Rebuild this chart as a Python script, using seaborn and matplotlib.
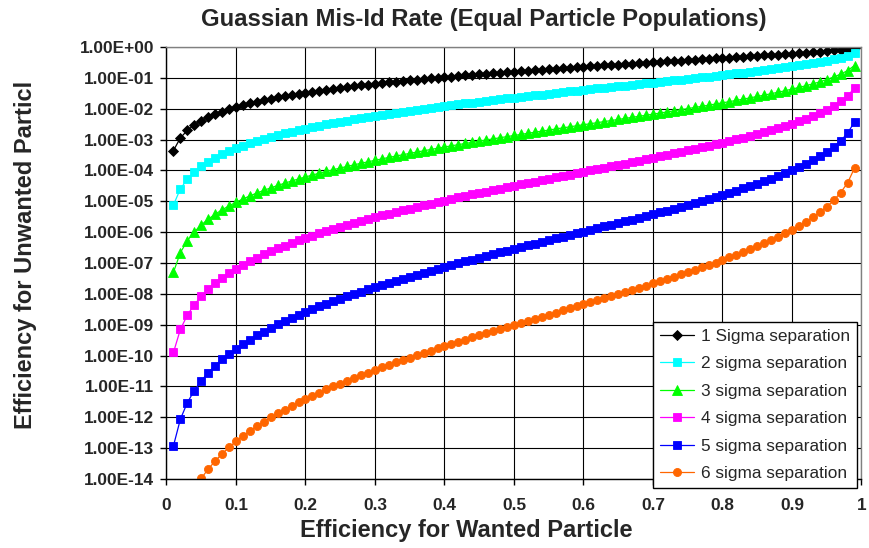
import numpy as np
import pandas as pd
import matplotlib
matplotlib.use("Agg")
import matplotlib.pyplot as plt
import seaborn as sns

# Efficiency for the wanted particle (x axis), 0.01 .. 0.99
wanted_eff = np.round(np.arange(1, 100) * 0.01, 2)

# log10 of the efficiency for the unwanted particle, one list per separation
log_sep1 = [
    -3.355, -2.945, -2.701, -2.524, -2.387, -2.273, -2.176, -2.091, -2.014, -1.946,
    -1.884, -1.827, -1.774, -1.725, -1.679, -1.636, -1.595, -1.555, -1.518, -1.482,
    -1.448, -1.416, -1.385, -1.354, -1.325, -1.297, -1.271, -1.244, -1.219, -1.195,
    -1.171, -1.147, -1.124, -1.101, -1.079, -1.058, -1.036, -1.016, -0.996, -0.976,
    -0.957, -0.938, -0.920, -0.902, -0.884, -0.866, -0.849, -0.833, -0.816, -0.800,
    -0.783, -0.766, -0.750, -0.733, -0.717, -0.701, -0.686, -0.670, -0.655, -0.641,
    -0.625, -0.611, -0.596, -0.582, -0.568, -0.554, -0.541, -0.528, -0.514, -0.499,
    -0.484, -0.469, -0.454, -0.440, -0.426, -0.411, -0.397, -0.383, -0.369, -0.355,
    -0.341, -0.328, -0.315, -0.303, -0.289, -0.274, -0.259, -0.245, -0.229, -0.214,
    -0.198, -0.182, -0.166, -0.148, -0.130, -0.112, -0.091, -0.069, -0.042,
]
log_sep2 = [
    -5.119, -4.597, -4.282, -4.053, -3.872, -3.722, -3.593, -3.479, -3.377, -3.285,
    -3.201, -3.123, -3.051, -2.984, -2.920, -2.861, -2.803, -2.749, -2.697, -2.647,
    -2.599, -2.553, -2.509, -2.466, -2.425, -2.385, -2.346, -2.308, -2.272, -2.236,
    -2.201, -2.166, -2.133, -2.099, -2.067, -2.035, -2.004, -1.973, -1.943, -1.914,
    -1.885, -1.857, -1.829, -1.801, -1.773, -1.746, -1.720, -1.694, -1.668, -1.642,
    -1.616, -1.590, -1.564, -1.540, -1.514, -1.489, -1.464, -1.440, -1.416, -1.392,
    -1.367, -1.343, -1.319, -1.296, -1.272, -1.248, -1.225, -1.201, -1.178, -1.154,
    -1.130, -1.105, -1.081, -1.056, -1.031, -1.006, -0.982, -0.957, -0.932, -0.907,
    -0.881, -0.856, -0.830, -0.804, -0.776, -0.746, -0.717, -0.687, -0.656, -0.624,
    -0.592, -0.558, -0.523, -0.484, -0.442, -0.396, -0.344, -0.283, -0.202,
]
log_sep3 = [
    -7.299, -6.663, -6.276, -5.993, -5.768, -5.580, -5.418, -5.276, -5.148, -5.031,
    -4.924, -4.825, -4.733, -4.646, -4.565, -4.488, -4.414, -4.344, -4.276, -4.212,
    -4.150, -4.090, -4.032, -3.977, -3.922, -3.869, -3.818, -3.768, -3.720, -3.672,
    -3.626, -3.579, -3.535, -3.491, -3.448, -3.405, -3.364, -3.322, -3.282, -3.242,
    -3.202, -3.164, -3.126, -3.088, -3.051, -3.013, -2.977, -2.940, -2.904, -2.868,
    -2.833, -2.797, -2.761, -2.727, -2.692, -2.657, -2.622, -2.588, -2.553, -2.519,
    -2.485, -2.451, -2.417, -2.382, -2.348, -2.314, -2.279, -2.245, -2.211, -2.176,
    -2.140, -2.105, -2.070, -2.033, -1.996, -1.960, -1.923, -1.886, -1.847, -1.809,
    -1.770, -1.730, -1.689, -1.647, -1.604, -1.559, -1.513, -1.466, -1.417, -1.365,
    -1.312, -1.255, -1.195, -1.129, -1.055, -0.973, -0.879, -0.764, -0.600,
]
log_sep4 = [
    -9.900, -9.150, -8.689, -8.351, -8.082, -7.856, -7.661, -7.489, -7.334, -7.192,
    -7.063, -6.942, -6.830, -6.724, -6.624, -6.530, -6.439, -6.353, -6.270, -6.190,
    -6.113, -6.039, -5.967, -5.898, -5.831, -5.765, -5.701, -5.639, -5.577, -5.518,
    -5.459, -5.402, -5.346, -5.291, -5.236, -5.183, -5.130, -5.078, -5.026, -4.976,
    -4.926, -4.877, -4.828, -4.780, -4.732, -4.684, -4.637, -4.591, -4.544, -4.498,
    -4.452, -4.407, -4.361, -4.316, -4.270, -4.225, -4.180, -4.135, -4.090, -4.046,
    -4.001, -3.956, -3.912, -3.867, -3.821, -3.776, -3.730, -3.685, -3.639, -3.592,
    -3.546, -3.499, -3.450, -3.403, -3.353, -3.304, -3.254, -3.203, -3.152, -3.099,
    -3.045, -2.990, -2.934, -2.876, -2.817, -2.755, -2.691, -2.624, -2.555, -2.482,
    -2.405, -2.323, -2.236, -2.139, -2.031, -1.909, -1.766, -1.587, -1.325,
]
log_sep5 = [
    -12.926, -12.059, -11.526, -11.133, -10.818, -10.555, -10.326, -10.123, -9.941, -9.775,
    -9.622, -9.480, -9.346, -9.221, -9.103, -8.991, -8.884, -8.780, -8.682, -8.587,
    -8.495, -8.407, -8.320, -8.238, -8.157, -8.078, -8.001, -7.926, -7.853, -7.781,
    -7.711, -7.642, -7.573, -7.506, -7.441, -7.376, -7.312, -7.249, -7.187, -7.126,
    -7.065, -7.005, -6.945, -6.887, -6.828, -6.770, -6.713, -6.655, -6.598, -6.542,
    -6.485, -6.429, -6.373, -6.318, -6.261, -6.206, -6.150, -6.095, -6.040, -5.985,
    -5.929, -5.872, -5.817, -5.761, -5.704, -5.648, -5.592, -5.534, -5.477, -5.418,
    -5.359, -5.300, -5.239, -5.179, -5.117, -5.054, -4.991, -4.926, -4.861, -4.794,
    -4.725, -4.655, -4.582, -4.508, -4.431, -4.352, -4.269, -4.183, -4.093, -3.997,
    -3.897, -3.788, -3.672, -3.543, -3.399, -3.236, -3.041, -2.792, -2.423,
]
log_sep6 = [
    -16.379, -15.396, -14.788, -14.340, -13.980, -13.678, -13.416, -13.183, -12.973, -12.782,
    -12.605, -12.441, -12.287, -12.143, -12.005, -11.876, -11.751, -11.632, -11.517, -11.406,
    -11.300, -11.197, -11.097, -11.000, -10.906, -10.813, -10.724, -10.636, -10.550, -10.466,
    -10.384, -10.302, -10.223, -10.145, -10.068, -9.991, -9.916, -9.842, -9.769, -9.696,
    -9.624, -9.553, -9.484, -9.414, -9.344, -9.276, -9.208, -9.140, -9.073, -9.005,
    -8.938, -8.871, -8.805, -8.739, -8.672, -8.606, -8.539, -8.473, -8.408, -8.341,
    -8.274, -8.207, -8.140, -8.073, -8.006, -7.937, -7.869, -7.800, -7.731, -7.661,
    -7.590, -7.518, -7.445, -7.372, -7.297, -7.221, -7.144, -7.066, -6.985, -6.904,
    -6.820, -6.734, -6.645, -6.554, -6.460, -6.362, -6.260, -6.154, -6.042, -5.923,
    -5.798, -5.664, -5.518, -5.357, -5.176, -4.968, -4.720, -4.400, -3.921,
]

series_names = [
    "1 Sigma separation", "2 sigma separation", "3 sigma separation",
    "4 sigma separation", "5 sigma separation", "6 sigma separation",
]
series_logs = [log_sep1, log_sep2, log_sep3, log_sep4, log_sep5, log_sep6]
series_colors = ["#000000", "#00FFFF", "#00FF00", "#FF00FF", "#0000FF", "#FF6600"]
series_markers = ["D", "s", "^", "s", "s", "o"]
series_msize = [5.4, 5.6, 6.6, 5.6, 5.6, 5.8]

x_ticks = [0, 0.1, 0.2, 0.3, 0.4, 0.5, 0.6, 0.7, 0.8, 0.9, 1.0]
x_tick_labels = ["0", "0.1", "0.2", "0.3", "0.4", "0.5", "0.6", "0.7", "0.8", "0.9", "1"]
y_tick_exponents = list(range(0, -15, -1))
y_tick_labels = ["1.00E+00"] + ["1.00E-%02d" % (-e) for e in y_tick_exponents[1:]]

frames = []
for name, logs in zip(series_names, series_logs):
    frames.append(pd.DataFrame({
        "wanted": wanted_eff,
        "unwanted": np.power(10.0, np.array(logs)),
        "series": name,
    }))
df = pd.concat(frames, ignore_index=True)

sns.set_theme(style="white")
plt.rcParams["font.family"] = ["Liberation Sans", "DejaVu Sans"]

fig = plt.figure(figsize=(8.7, 5.48), dpi=100)
ax = fig.add_axes([166.5 / 870, 1 - 479 / 548, 695 / 870, 432 / 548])

for name, color, mk, ms in zip(series_names, series_colors, series_markers, series_msize):
    sub = df[df["series"] == name]
    sns.lineplot(
        data=sub, x="wanted", y="unwanted", ax=ax, color=color,
        marker=mk, markersize=ms, markeredgecolor=color, markeredgewidth=0.6,
        linewidth=0.9, label=name, estimator=None, sort=False,
    )

ax.set_yscale("log")
ax.set_xlim(0, 1)
ax.set_ylim(1e-14, 1)
ax.set_xticks(x_ticks)
ax.set_xticklabels(x_tick_labels)
ax.set_yticks([10.0 ** e for e in y_tick_exponents])
ax.set_yticklabels(y_tick_labels)
ax.yaxis.set_minor_locator(matplotlib.ticker.NullLocator())
ax.xaxis.set_minor_locator(matplotlib.ticker.NullLocator())

ax.grid(True, which="major", color="#000000", linewidth=0.8)
ax.set_axisbelow(True)
for side in ["left", "bottom"]:
    ax.spines[side].set_color("#000000")
    ax.spines[side].set_linewidth(1.0)
for side in ["top", "right"]:
    ax.spines[side].set_color("#808080")
    ax.spines[side].set_linewidth(1.0)

ax.tick_params(axis="y", which="major", direction="out", length=4, width=1,
               color="#000000", pad=5, labelsize=12.4, left=True)
ax.tick_params(axis="x", which="major", direction="out", length=4, width=1,
               color="#000000", pad=10, labelsize=12.4, bottom=True)
for lbl in ax.get_xticklabels() + ax.get_yticklabels():
    lbl.set_fontweight("bold")

ax.set_xlabel("")
ax.set_ylabel("")
fig.text(484 / 870, 1 - 19.5 / 548, "Guassian Mis-Id Rate (Equal Particle Populations)",
         ha="center", va="center", fontsize=17.2, fontweight="bold")
fig.text(466 / 870, 1 - 531 / 548, "Efficiency for Wanted Particle",
         ha="center", va="center", fontsize=17, fontweight="bold")
fig.text(26 / 870, 1 - 254.5 / 548, "Efficiency for Unwanted Particl",
         ha="center", va="center", rotation=90, fontsize=17, fontweight="bold")

leg = ax.legend(
    loc="upper left", bbox_to_anchor=(653 / 870, 1 - 322 / 548),
    bbox_transform=fig.transFigure, borderaxespad=0, fontsize=12.4,
    frameon=True, fancybox=False, framealpha=1, edgecolor="#000000",
    handlelength=2.0, handletextpad=0.4, labelspacing=0.72, borderpad=0.4,
)
leg.get_frame().set_linewidth(1.0)
leg.set_zorder(10)

fig.savefig("out.png", dpi=100, facecolor="white")
